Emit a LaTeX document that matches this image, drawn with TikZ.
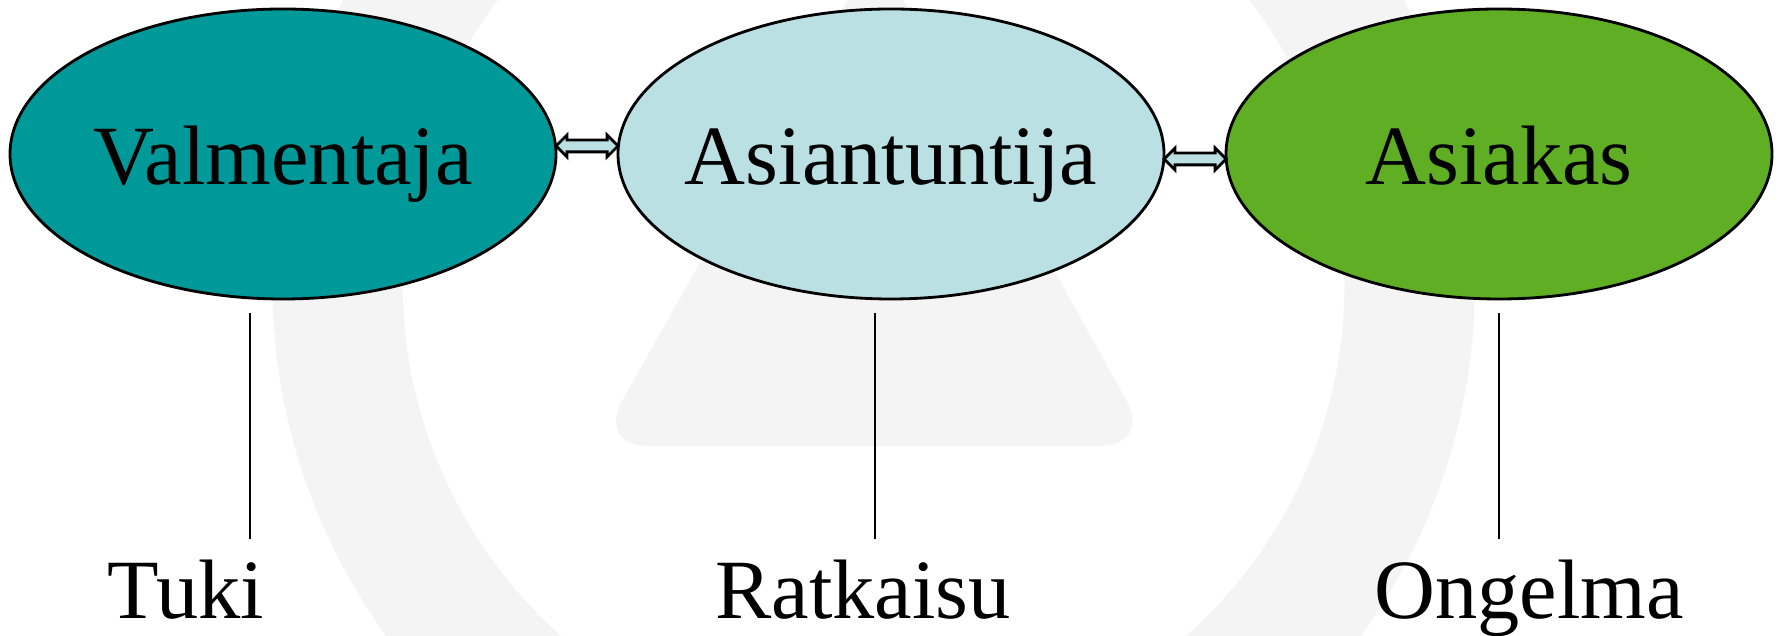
\documentclass[tikz,border=0pt]{standalone}
\usepackage{fontspec}
\setmainfont{Liberation Serif}
\usepackage{tikz}
\usetikzlibrary{shapes.geometric}
\usetikzlibrary{shapes.arrows}

\definecolor{markgray}{RGB}{244,244,244}
\definecolor{coachteal}{RGB}{0,153,153}
\definecolor{expertblue}{RGB}{187,224,227}
\definecolor{clientgreen}{RGB}{95,174,35}

\begin{document}
\begin{tikzpicture}[
  oval/.style={ellipse, draw=black, line width=0.8pt, minimum width=5.46cm, minimum height=2.9cm,
    inner sep=0pt, text height=0.8cm, text depth=0.18cm, font=\fontsize{24}{28}\selectfont},
  link/.style={double arrow, draw=black, line width=0.8pt, fill=expertblue, minimum height=0.62cm,
    inner sep=0.045cm, double arrow head extend=0.05cm},
  stem/.style={line width=0.6pt},
  word/.style={anchor=base, inner sep=0pt, font=\fontsize{24}{28}\selectfont}]
  \useasboundingbox (0,0) rectangle (17.79,-6.36);

  % Watermark
  \begin{scope}
    \clip (0,0) rectangle (17.79,-6.36);
    \fill[markgray, even odd rule] (8.736,-2.837) circle (6.013) (8.736,-2.837) circle (4.709);
    \fill[markgray, rounded corners=0.51cm] (8.76,0.5) -- (11.516,-4.459) -- (5.968,-4.459) -- cycle;
  \end{scope}

  % Ovals
  \node[oval, fill=coachteal] (val) at (2.83,-1.54) {\makebox[0pt]{Valmentaja}};
  \node[oval, fill=expertblue] (asi) at (8.91,-1.54) {\makebox[0pt]{Asiantuntija}};
  \node[oval, fill=clientgreen] (cli) at (14.99,-1.54) {\makebox[0pt]{Asiakas}};

  % Arrows
  \path ([yshift=0.08cm]val.east) -- ([yshift=0.08cm]asi.west) node[midway, link] {};
  \path ([yshift=-0.05cm]asi.east) -- ([yshift=-0.05cm]cli.west) node[midway, link] {};

  % Labels
  \node[word] (tuki) at (1.86,-6.18) {Tuki};
  \node[word] (ratk) at (8.63,-6.18) {Ratkaisu};
  \node[word] (ong) at (15.29,-6.18) {Ongelma};

  % Stems
  \foreach \x/\n in {2.496/tuki, 8.75/ratk, 14.99/ong} {
    \coordinate (\n-top) at (\x,-3.13);
    \coordinate (\n-bot) at (\x,-5.39);
    \draw[stem] (\n-top) -- (\n-bot);
  }
\end{tikzpicture}
\end{document}
